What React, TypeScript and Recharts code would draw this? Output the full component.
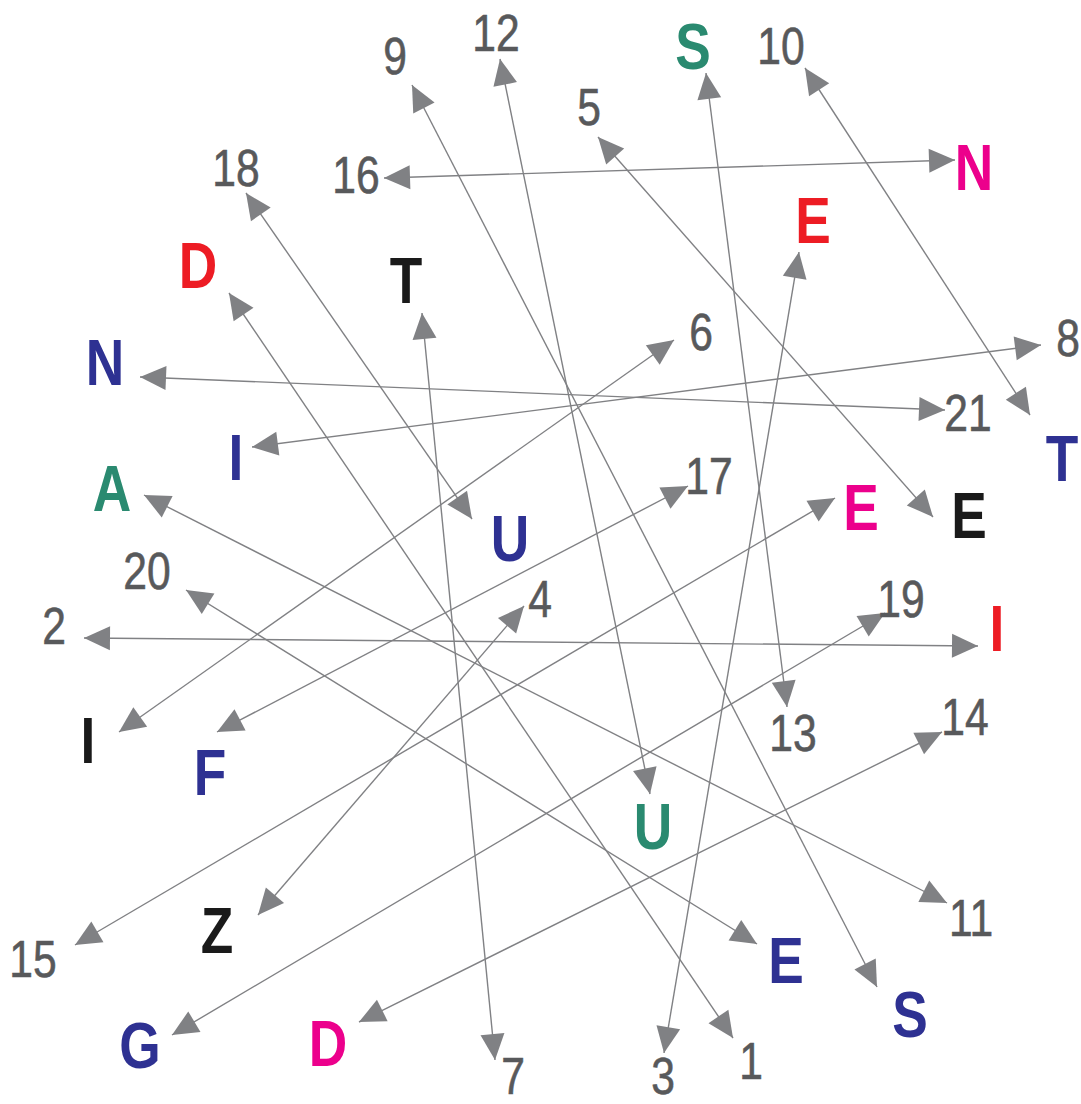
import React from 'react';
import { ScatterChart, Scatter, XAxis, YAxis } from 'recharts';

// Numbers 1..21, each linked to one letter (spelling "DIE ZEIT IST AUS DEN FUGEN")
const numberLabels = ['1','2','3','4','5','6','7','8','9','10','11','12','13','14','15','16','17','18','19','20','21'];
const numX = [751, 54, 663, 540, 589, 701, 513, 1068, 395, 781, 971, 496, 793, 965, 33, 356, 709, 236, 901, 147, 968];
const numY = [1060, 625, 1075, 598, 106, 331, 1075, 337, 55, 45, 917, 32, 732, 716, 958, 174, 475, 167, 598, 570, 412];
const numTipX = [733, 84, 664, 524, 598, 674, 495, 1041, 412, 805, 947, 500, 787, 942, 75, 384, 688, 246, 885, 186, 945];
const numTipY = [1038, 638, 1053, 606, 137, 340, 1060, 345, 85, 68, 903, 59, 707, 732, 945, 178, 486, 193, 613, 590, 410];

const letterLabels = ['D','I','E','Z','E','I','T','I','S','T','A','U','S','D','E','N','F','U','G','E','N'];
const letterColorKeys = ['red','red','red','black','black','black','black','blue','blue','blue','green','green','green','pink','pink','pink','blue','blue','blue','blue','blue'];
const letX = [198, 997, 813, 217, 969, 88, 406, 236, 910, 1062, 112, 653, 693, 328, 861, 974, 210, 510, 140, 786, 105];
const letY = [265, 628, 220, 930, 515, 740, 280, 457, 1014, 458, 488, 826, 46, 1043, 507, 167, 772, 538, 1045, 960, 362];
const letTipX = [229, 978, 799, 258, 933, 119, 422, 252, 877, 1030, 144, 650, 706, 359, 835, 955, 217, 472, 172, 757, 140];
const letTipY = [293, 646, 252, 915, 517, 732, 313, 447, 987, 415, 495, 794, 73, 1022, 498, 160, 732, 519, 1035, 944, 377];

const palette: Record<string, string> = {
  red: '#ed1c24',
  black: '#1a1a1a',
  blue: '#2e3192',
  green: '#2a8a70',
  pink: '#ec008c',
  gray: '#58595b',
};

const LINE_COLOR = '#808184';

const connections = numberLabels.map((_, i) => [
  { x: numTipX[i], y: numTipY[i], ox: letTipX[i], oy: letTipY[i] },
  { x: letTipX[i], y: letTipY[i], ox: numTipX[i], oy: numTipY[i] },
]);

const labelData = [
  ...numberLabels.map((t, i) => ({ x: numX[i], y: numY[i], text: t, kind: 'num', color: 'gray' })),
  ...letterLabels.map((t, i) => ({ x: letX[i], y: letY[i], text: t, kind: 'let', color: letterColorKeys[i] })),
];

const ArrowHead = (props: any) => {
  const { cx, cy, payload } = props;
  if (cx == null || cy == null) return null;
  const dx = payload.x - payload.ox;
  const dy = payload.y - payload.oy;
  const len = Math.sqrt(dx * dx + dy * dy) || 1;
  const ux = dx / len;
  const uy = dy / len;
  const L = 26;
  const hw = 12;
  const bx = cx - ux * L;
  const by = cy - uy * L;
  const nx = -uy;
  const ny = ux;
  const pts = `${cx},${cy} ${bx + nx * hw},${by + ny * hw} ${bx - nx * hw},${by - ny * hw}`;
  return <polygon points={pts} fill={LINE_COLOR} stroke="none" />;
};

const TextMark = (props: any) => {
  const { cx, cy, payload } = props;
  if (cx == null || cy == null) return null;
  const isNum = payload.kind === 'num';
  return (
    <g transform={`translate(${cx},${cy}) scale(0.82,1)`}>
      <text
        x={0}
        y={0}
        dy="0.36em"
        textAnchor="middle"
        fontFamily='"Liberation Sans", Arial, sans-serif'
        fontWeight={isNum ? 400 : 700}
        fontSize={isNum ? 52 : 65}
        fill={palette[payload.color]}
        stroke={isNum ? palette[payload.color] : 'none'}
        strokeWidth={isNum ? 0.6 : 0}
      >
        {payload.text}
      </text>
    </g>
  );
};

export default function App() {
  return (
    <div style={{ position: 'absolute', left: 0, top: 0, background: '#fff' }}>
      <ScatterChart width={1081} height={1104} margin={{ top: 0, right: 0, bottom: 0, left: 0 }}>
        <XAxis type="number" dataKey="x" domain={[0, 1081]} hide allowDataOverflow />
        <YAxis type="number" dataKey="y" domain={[0, 1104]} reversed hide allowDataOverflow />
        {connections.map((pts, i) => (
          <Scatter
            key={`c${i}`}
            data={pts}
            line={{ stroke: LINE_COLOR, strokeWidth: 1.4 }}
            lineType="joint"
            shape={ArrowHead}
            isAnimationActive={false}
          />
        ))}
        <Scatter data={labelData} shape={TextMark} isAnimationActive={false} />
      </ScatterChart>
    </div>
  );
}
